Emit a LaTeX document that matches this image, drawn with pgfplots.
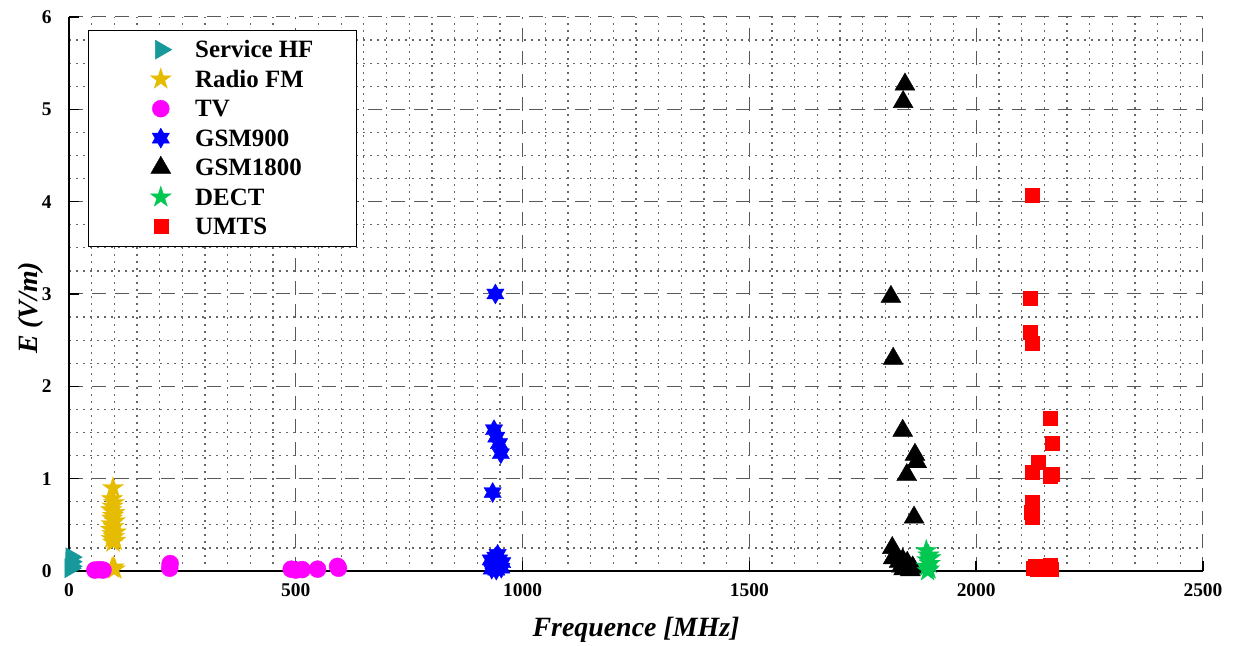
\documentclass[border=0pt]{standalone}
\usepackage{fontspec}
\setmainfont{Liberation Serif}
\usepackage{pgfplots}
\pgfplotsset{compat=1.18}

\definecolor{hfc}{RGB}{23,153,156}
\definecolor{fmc}{RGB}{230,188,0}
\definecolor{tvc}{RGB}{255,0,255}
\definecolor{gsmnc}{RGB}{0,0,255}
\definecolor{dectc}{RGB}{0,200,80}
\definecolor{umtsc}{RGB}{255,0,0}

\newdimen\innerr
\pgfdeclareplotmark{pstar}{%
  \innerr=0.382\pgfplotmarksize
  \pgfpathmoveto{\pgfqpointpolar{90}{\pgfplotmarksize}}%
  \pgfpathlineto{\pgfqpointpolar{126}{\innerr}}%
  \pgfpathlineto{\pgfqpointpolar{162}{\pgfplotmarksize}}%
  \pgfpathlineto{\pgfqpointpolar{198}{\innerr}}%
  \pgfpathlineto{\pgfqpointpolar{234}{\pgfplotmarksize}}%
  \pgfpathlineto{\pgfqpointpolar{270}{\innerr}}%
  \pgfpathlineto{\pgfqpointpolar{306}{\pgfplotmarksize}}%
  \pgfpathlineto{\pgfqpointpolar{342}{\innerr}}%
  \pgfpathlineto{\pgfqpointpolar{18}{\pgfplotmarksize}}%
  \pgfpathlineto{\pgfqpointpolar{54}{\innerr}}%
  \pgfpathclose\pgfusepathqfillstroke}
\pgfdeclareplotmark{hstar}{%
  \innerr=0.577\pgfplotmarksize
  \pgfpathmoveto{\pgfqpointpolar{90}{\pgfplotmarksize}}%
  \pgfpathlineto{\pgfqpointpolar{120}{\innerr}}%
  \pgfpathlineto{\pgfqpointpolar{150}{\pgfplotmarksize}}%
  \pgfpathlineto{\pgfqpointpolar{180}{\innerr}}%
  \pgfpathlineto{\pgfqpointpolar{210}{\pgfplotmarksize}}%
  \pgfpathlineto{\pgfqpointpolar{240}{\innerr}}%
  \pgfpathlineto{\pgfqpointpolar{270}{\pgfplotmarksize}}%
  \pgfpathlineto{\pgfqpointpolar{300}{\innerr}}%
  \pgfpathlineto{\pgfqpointpolar{330}{\pgfplotmarksize}}%
  \pgfpathlineto{\pgfqpointpolar{0}{\innerr}}%
  \pgfpathlineto{\pgfqpointpolar{30}{\pgfplotmarksize}}%
  \pgfpathlineto{\pgfqpointpolar{60}{\innerr}}%
  \pgfpathclose\pgfusepathqfillstroke}

\begin{document}
\begin{tikzpicture}
\useasboundingbox (0,0) rectangle (1240bp,646bp);
\begin{axis}[
  at={(69bp,75bp)}, anchor=south west,
  scale only axis, width=1134bp, height=554bp,
  xmin=0, xmax=2500, ymin=0, ymax=6,
  xtick={0,500,...,2500}, ytick={0,1,...,6},
  minor x tick num=9, minor y tick num=3,
  axis x line*=bottom, axis y line*=left,
  axis line style={-, line width=2bp, black},
  tick align=inside, major tick length=10bp, minor tick length=0bp,
  tick style={black, line width=1.5bp},
  grid=both,
  major grid style={black!65, line width=1bp, dash pattern=on 14bp off 9bp},
  minor grid style={black!60, line width=1.3bp, dash pattern=on 1.5bp off 5.5bp},
  /pgf/number format/assume math mode=true,
  /pgf/number format/1000 sep={},
  xticklabel style={font=\fontsize{19.5}{22}\selectfont\bfseries, yshift=-9bp},
  yticklabel style={font=\fontsize{19.5}{22}\selectfont\bfseries, xshift=-14bp},
  every axis x label/.style={at={(axis description cs:0.5,-0.1065)}, anchor=center, font=\fontsize{28}{32}\selectfont\bfseries\itshape},
  every axis y label/.style={at={(axis description cs:-0.0335,0.475)}, anchor=center, rotate=90, font=\fontsize{28}{32}\selectfont\bfseries\itshape},
  xlabel={Frequence [MHz]},
  ylabel={E (V/m)},
  clip=false,
  legend style={at={(axis description cs:0,1)}, anchor=north west, xshift=19bp, yshift=-13bp,
    draw=black, line width=0.8bp, inner xsep=41bp, inner ysep=4.5bp,
    font=\fontsize{25}{30}\selectfont\bfseries, cells={anchor=west},
    nodes={inner ysep=6.5bp, text height=16.5bp, text depth=0bp}, row sep=0pt},
  legend image code/.code={\path (-31bp,0) (32bp,0); \draw[#1,line width=0.4pt] plot coordinates {(0bp,0bp)};},
]
% Service HF
\addplot[only marks, mark=triangle*, mark size=11bp, color=hfc, mark options={rotate=-90, fill=hfc, draw=hfc}]
coordinates {(5,0.15) (5,0.10) (5,0.05) (3,0.03)};
\addlegendentry{Service HF}
% Radio FM
\addplot[only marks, mark=pstar, mark size=11bp, color=fmc, mark options={fill=fmc, draw=fmc}]
coordinates {(97,0.90) (95,0.78) (99,0.74) (96,0.70) (93,0.66) (100,0.63) (97,0.60) (95,0.57)
 (101,0.54) (94,0.51) (98,0.48) (92,0.45) (103,0.42) (96,0.40) (99,0.37) (94,0.35) (102,0.33) (97,0.31)
 (98,0.04) (101,0.02) (95,0.03)};
\addlegendentry{Radio FM}
% TV
\addplot[only marks, mark=*, mark size=8.5bp, color=tvc, mark options={fill=tvc, draw=tvc}]
coordinates {(57,0.01) (66,0.015) (75,0.01) (222,0.03) (223,0.08) (490,0.02) (500,0.01) (514,0.015)
 (548,0.02) (592,0.05) (594,0.03)};
\addlegendentry{TV}
% GSM900
\addplot[only marks, mark=hstar, mark size=10bp, color=gsmnc, mark options={fill=gsmnc, draw=gsmnc}]
coordinates {(940,3.00) (937,1.53) (942,1.45) (948,1.38) (952,1.27) (934,0.85)
 (932,0.02) (935,0.05) (938,0.10) (940,0.15) (945,0.18) (948,0.12) (950,0.06) (953,0.03)
 (942,0.01) (936,0.08) (944,0.04) (955,0.09) (930,0.12)};
\addlegendentry{GSM900}
% GSM1800
\addplot[only marks, mark=triangle*, mark size=11.5bp, color=black, mark options={fill=black, draw=black}]
coordinates {(1843,5.27) (1839,5.08) (1812,2.97) (1817,2.30) (1838,1.52) (1865,1.26) (1869,1.18)
 (1847,1.04) (1863,0.58) (1815,0.25) (1817,0.14) (1830,0.10) (1835,0.05) (1840,0.02) (1845,0.06)
 (1850,0.03) (1855,0.01) (1860,0.04) (1838,0.12) (1848,0.09)};
\addlegendentry{GSM1800}
% DECT
\addplot[only marks, mark=pstar, mark size=11bp, color=dectc, mark options={fill=dectc, draw=dectc}]
coordinates {(1890,0.22) (1895,0.17) (1892,0.12) (1898,0.08) (1891,0.05) (1896,0.02) (1893,0.00) (1899,0.14)};
\addlegendentry{DECT}
% UMTS
\addplot[only marks, mark=square*, mark size=7bp, color=umtsc, mark options={fill=umtsc, draw=umtsc}]
coordinates {(2123,4.07) (2119,2.95) (2119,2.59) (2123,2.47) (2163,1.65) (2167,1.38) (2137,1.18)
 (2123,1.07) (2167,1.05) (2163,1.03) (2123,0.75) (2121,0.64) (2123,0.58) (2125,0.03) (2135,0.02)
 (2145,0.04) (2163,0.06) (2165,0.02) (2130,0.05)};
\addlegendentry{UMTS}
\end{axis}
\end{tikzpicture}
\end{document}
